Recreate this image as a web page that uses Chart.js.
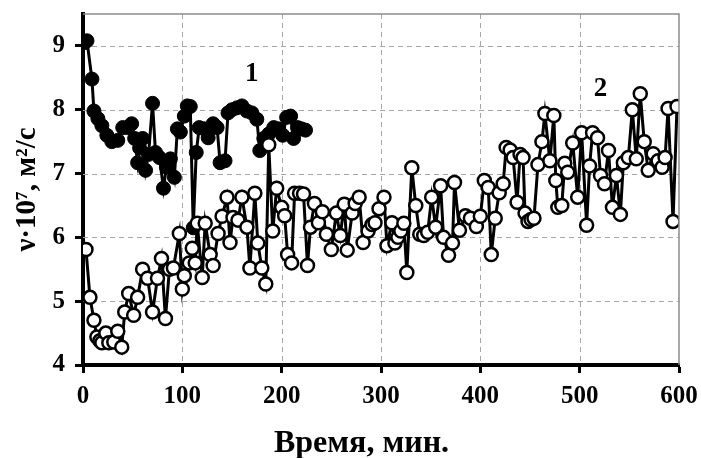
<!DOCTYPE html>
<html lang="ru">
<head>
    <meta charset="UTF-8">
    <title>Вязкость во времени</title>
    <script src="https://cdn.jsdelivr.net/npm/chart.js"></script>
    <style>
        body {
            margin: 0;
            background: #fff;
        }
        #wrap {
            width: 701px;
            height: 458px;
        }
    </style>
</head>
<body>
    <div id="wrap"><canvas id="myChart"></canvas></div>

    <script>
        // Кривая 1: время (мин) и вязкость
        var time1 = [1, 4, 9, 11, 15, 19, 24, 29, 35, 40, 45, 49, 52, 55, 57, 60, 63, 66, 70, 73,
            77, 81, 84, 88, 92, 95, 98, 102, 105, 108, 111, 114, 117, 122, 126, 131, 135, 138, 143, 146,
            150, 155, 160, 165, 170, 175, 178, 182, 187, 192, 197, 201, 205, 209, 212, 216, 220, 224];
        var visc1 = [9.05, 9.08, 8.48, 7.98, 7.86, 7.75, 7.6, 7.5, 7.52, 7.72, 7.72, 7.78, 7.55, 7.17, 7.4, 7.55, 7.05, 7.3, 8.1, 7.33,
            7.25, 6.77, 7.1, 7.23, 6.94, 7.7, 7.65, 7.9, 8.06, 8.05, 6.15, 7.33, 7.72, 7.7, 7.56, 7.78, 7.72, 7.17, 7.2, 7.95,
            8.0, 8.03, 8.06, 7.98, 7.95, 7.85, 7.36, 7.55, 7.62, 7.72, 7.7, 7.6, 7.88, 7.9, 7.55, 7.72, 7.7, 7.68];

        // Кривая 2
        var time2 = [3, 7, 11, 14, 17, 19, 23, 26, 31, 35, 39, 42, 46, 51, 55, 60, 65, 70, 75, 79,
            83, 87, 91, 97, 100, 102, 107, 110, 113, 115, 120, 123, 128, 131, 136, 140, 145, 148, 151, 156,
            160, 165, 168, 173, 176, 180, 184, 187, 191, 195, 200, 203, 206, 210, 213, 218, 222, 226, 229, 233,
            237, 241, 245, 250, 255, 259, 263, 266, 271, 274, 278, 282, 287, 291, 294, 298, 303, 306, 311, 314,
            317, 320, 323, 326, 331, 335, 339, 343, 347, 351, 355, 360, 363, 368, 372, 374, 379, 385, 390, 396,
            400, 404, 408, 411, 415, 419, 423, 426, 430, 433, 437, 440, 443, 445, 448, 451, 454, 458, 462, 465,
            470, 474, 476, 478, 482, 485, 488, 493, 498, 502, 507, 510, 513, 518, 521, 525, 529, 533, 537, 541,
            544, 549, 553, 557, 561, 565, 569, 574, 579, 583, 586, 589, 594, 598];
        var visc2 = [5.81, 5.06, 4.7, 4.44, 4.38, 4.35, 4.5, 4.35, 4.36, 4.53, 4.28, 4.83, 5.12, 4.78, 5.06, 5.5, 5.36, 4.83, 5.36, 5.67,
            4.73, 5.5, 5.52, 6.06, 5.19, 5.4, 5.6, 5.83, 5.6, 6.22, 5.37, 6.22, 5.73, 5.56, 6.06, 6.33, 6.63, 5.92, 6.31, 6.27,
            6.63, 6.16, 5.52, 6.69, 5.91, 5.52, 5.27, 7.45, 6.1, 6.77, 6.47, 6.34, 5.73, 5.6, 6.69, 6.69, 6.68, 5.56, 6.16, 6.53,
            6.23, 6.4, 6.05, 5.81, 6.38, 6.03, 6.52, 5.8, 6.38, 6.53, 6.63, 5.92, 6.1, 6.2, 6.23, 6.45, 6.63, 5.87, 6.23, 5.91,
            6.0, 6.1, 6.22, 5.45, 7.09, 6.5, 6.05, 6.03, 6.08, 6.63, 6.16, 6.81, 6.0, 5.72, 5.91, 6.86, 6.11, 6.34, 6.3, 6.17,
            6.33, 6.89, 6.78, 5.73, 6.3, 6.7, 6.84, 7.41, 7.37, 7.25, 6.55, 7.3, 7.25, 6.38, 6.25, 6.28, 6.3, 7.14, 7.5, 7.94,
            7.2, 7.91, 6.89, 6.47, 6.5, 7.16, 7.02, 7.48, 6.63, 7.64, 6.19, 7.12, 7.64, 7.56, 6.97, 6.84, 7.36, 6.47, 6.97, 6.36,
            7.17, 7.25, 8.0, 7.23, 8.25, 7.5, 7.05, 7.31, 7.2, 7.1, 7.25, 8.02, 6.25, 8.05];

        // Подписи кривых: номер и положение в координатах данных
        var curveLabels = ['1', '2'];
        var labelTime = [170, 521];
        var labelVisc = [8.56, 8.33];

        var xTicks = [0, 100, 200, 300, 400, 500, 600];
        var yTicks = [4, 5, 6, 7, 8, 9];
        var xTitle = 'Время, мин.';

        function toPoints(xs, ys) {
            return xs.map(function (x, i) { return { x: x, y: ys[i] }; });
        }

        var serif = '"Liberation Serif", "Times New Roman", serif';

        // Пунктирная сетка под линиями
        var gridPlugin = {
            id: 'dashGrid',
            beforeDatasetsDraw: function (chart) {
                var c = chart.ctx, a = chart.chartArea;
                var sx = chart.scales.x, sy = chart.scales.y;
                c.save();
                c.strokeStyle = '#a6a6a6';
                c.lineWidth = 1;
                c.setLineDash([5, 4]);
                c.beginPath();
                xTicks.forEach(function (v) {
                    if (v === sx.min || v === sx.max) return;
                    var px = Math.round(sx.getPixelForValue(v)) + 0.5;
                    c.moveTo(px, a.top);
                    c.lineTo(px, a.bottom);
                });
                yTicks.forEach(function (v) {
                    if (v === sy.min) return;
                    var py = Math.round(sy.getPixelForValue(v)) + 0.5;
                    c.moveTo(a.left, py);
                    c.lineTo(a.right, py);
                });
                c.stroke();
                c.restore();
            }
        };

        // Рамка сверху и справа, номера кривых, подпись оси X
        var framePlugin = {
            id: 'frame',
            afterDraw: function (chart) {
                var c = chart.ctx, a = chart.chartArea;
                c.save();
                c.strokeStyle = '#8c8c8c';
                c.lineWidth = 1.5;
                c.beginPath();
                c.moveTo(a.left, a.top);
                c.lineTo(a.right, a.top);
                c.lineTo(a.right, a.bottom);
                c.stroke();

                c.fillStyle = '#000';
                c.font = 'bold 27px ' + serif;
                c.textAlign = 'center';
                c.textBaseline = 'middle';
                curveLabels.forEach(function (txt, i) {
                    var px = chart.scales.x.getPixelForValue(labelTime[i]);
                    var py = chart.scales.y.getPixelForValue(labelVisc[i]);
                    c.fillText(txt, px, py);
                });

                // подпись оси чуть левее центра области построения
                c.font = 'bold 32px ' + serif;
                c.fillText(xTitle, chart.width / 2 + 11, chart.height - 14);
                c.restore();
            }
        };

        var ctx = document.getElementById('myChart').getContext('2d');
        var chart = new Chart(ctx, {
            type: 'line',
            data: {
                datasets: [{
                    label: '1',
                    data: toPoints(time1, visc1),
                    borderColor: '#000',
                    borderWidth: 3,
                    backgroundColor: '#000',
                    pointBackgroundColor: '#000',
                    pointBorderColor: '#000',
                    pointRadius: 7,
                    pointBorderWidth: 1,
                    tension: 0,
                    order: 1
                }, {
                    label: '2',
                    data: toPoints(time2, visc2),
                    borderColor: '#000',
                    borderWidth: 3,
                    backgroundColor: '#fff',
                    pointBackgroundColor: '#fff',
                    pointBorderColor: '#000',
                    pointRadius: 6.5,
                    pointBorderWidth: 2.5,
                    tension: 0,
                    order: 0
                }]
            },
            options: {
                responsive: true,
                maintainAspectRatio: false,
                animation: false,
                layout: {
                    padding: { left: 0, top: 14, right: 22, bottom: 0 }
                },
                plugins: {
                    legend: { display: false },
                    tooltip: { enabled: false }
                },
                scales: {
                    x: {
                        type: 'linear',
                        min: 0,
                        max: 600,
                        afterBuildTicks: function (scale) {
                            scale.ticks = xTicks.map(function (v) { return { value: v }; });
                        },
                        afterFit: function (scale) {
                            scale.height = 93;
                            scale.paddingLeft = 0;
                            scale.paddingRight = 0;
                        },
                        grid: {
                            drawOnChartArea: false,
                            tickColor: '#000',
                            tickWidth: 3,
                            tickLength: 8
                        },
                        border: { color: '#000', width: 4 },
                        ticks: {
                            color: '#000',
                            padding: 9,
                            font: { family: serif, size: 25, weight: 'bold' }
                        }
                    },
                    y: {
                        min: 4,
                        max: 9.5,
                        afterBuildTicks: function (scale) {
                            scale.ticks = yTicks.map(function (v) { return { value: v }; });
                        },
                        afterFit: function (scale) {
                            scale.width = 83;
                            scale.paddingTop = 0;
                            scale.paddingBottom = 0;
                        },
                        grid: {
                            drawOnChartArea: false,
                            tickColor: '#000',
                            tickWidth: 3,
                            tickLength: 8
                        },
                        border: { color: '#000', width: 4 },
                        ticks: {
                            color: '#000',
                            padding: 10,
                            font: { family: serif, size: 25, weight: 'bold' }
                        },
                        title: {
                            display: true,
                            text: 'ν·10⁷, м²/с',
                            color: '#000',
                            padding: { top: 10, bottom: 0 },
                            font: { family: serif, size: 29, weight: 'bold' }
                        }
                    }
                }
            },
            plugins: [gridPlugin, framePlugin]
        });
    </script>
</body>
</html>
